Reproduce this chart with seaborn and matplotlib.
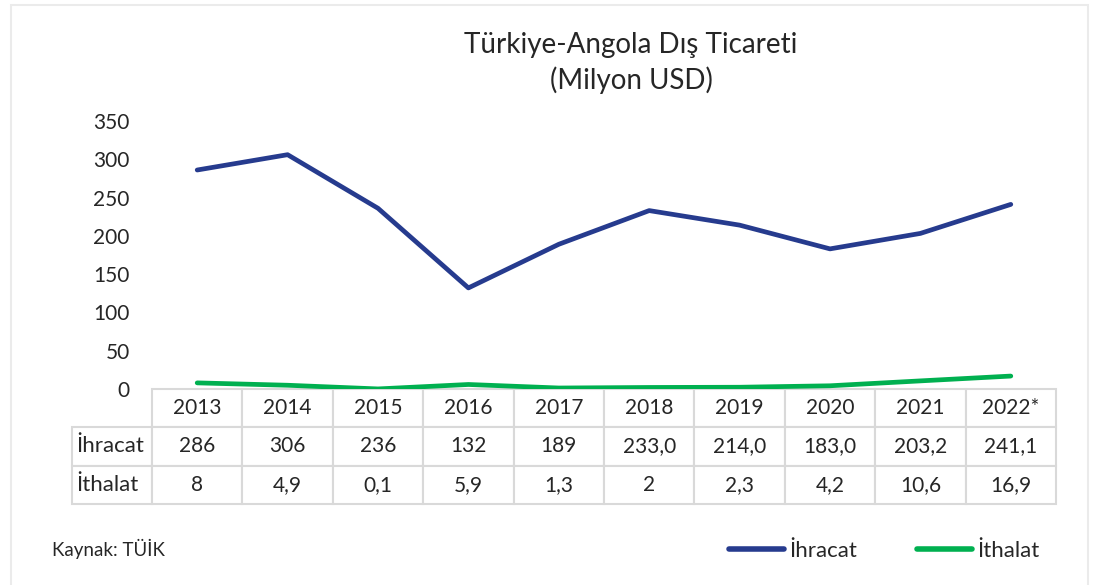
import matplotlib
matplotlib.use("Agg")
import matplotlib.pyplot as plt
import seaborn as sns
import pandas as pd
from matplotlib.table import Table
from matplotlib.patches import Rectangle

# veriler
years = ["2013", "2014", "2015", "2016", "2017", "2018", "2019", "2020", "2021", "2022*"]
ihracat = [286, 306, 236, 132, 189, 233.0, 214.0, 183.0, 203.2, 241.1]
ithalat = [8, 4.9, 0.1, 5.9, 1.3, 2, 2.3, 4.2, 10.6, 16.9]
ihracat_txt = ["286", "306", "236", "132", "189", "233,0", "214,0", "183,0", "203,2", "241,1"]
ithalat_txt = ["8", "4,9", "0,1", "5,9", "1,3", "2", "2,3", "4,2", "10,6", "16,9"]
series_names = ["İhracat", "İthalat"]
colors = ["#263B8E", "#00B050"]
yticks = [0, 50, 100, 150, 200, 250, 300, 350]

sns.set_style("white")
plt.rcParams["font.family"] = ["Lato", "DejaVu Sans"]
txt_color = "#262626"
grid_color = "#D9D9D9"

df = pd.DataFrame({
    "Yil": years * 2,
    "Deger": ihracat + ithalat,
    "Seri": [series_names[0]] * len(years) + [series_names[1]] * len(years),
})

fig = plt.figure(figsize=(10.95, 5.85), dpi=100)
ax = fig.add_axes([152 / 1095, 1 - 389 / 585, 904 / 1095, 268 / 585])

sns.lineplot(data=df, x="Yil", y="Deger", hue="Seri", palette=colors, sort=False,
             linewidth=3.4, ax=ax, legend=False,
             solid_capstyle="round", solid_joinstyle="round")

ax.set_xlim(-0.5, len(years) - 0.5)
ax.set_ylim(0, 350)
ax.set_yticks(yticks)
ax.set_yticklabels([str(v) for v in yticks], fontsize=15, color=txt_color)
ax.tick_params(axis="y", length=0, pad=16)
ax.set_xticks([])
ax.set_xlabel("")
ax.set_ylabel("")
for s in ax.spines.values():
    s.set_visible(False)

# veri tablosu
tab = Table(ax, bbox=[-80 / 904, -115 / 268, 984 / 904, 115 / 268])
label_w = 80
col_w = 90.4
row_h = 38.3
rows = [[""] + years, [series_names[0]] + ihracat_txt, [series_names[1]] + ithalat_txt]
tab.auto_set_font_size(False)
for r, row in enumerate(rows):
    for c, val in enumerate(row):
        w = label_w if c == 0 else col_w
        loc = "left" if c == 0 else "center"
        cell = tab.add_cell(r, c, w, row_h, text=val, loc=loc, facecolor="white",
                            edgecolor=grid_color)
        cell.set_linewidth(1.5)
        cell.get_text().set_fontsize(16 if c == 0 else 15)
        cell.get_text().set_color(txt_color)
        if c == 0:
            cell.PAD = 0.05
        if r == 0 and c == 0:
            cell.visible_edges = ""
ax.add_table(tab)

# başlık
fig.text(631 / 1095, 1 - 45 / 585, "Türkiye-Angola Dış Ticareti", ha="center", va="center",
         fontsize=20, color=txt_color)
fig.text(631 / 1095, 1 - 80 / 585, "(Milyon USD)", ha="center", va="center",
         fontsize=20, color=txt_color)

fig.text(52 / 1095, 1 - 549 / 585, "Kaynak: TÜİK", ha="left", va="center",
         fontsize=13.5, color=txt_color)

# lejant
handles = [plt.Line2D([], [], color=col, lw=4, solid_capstyle="round") for col in colors]
fig.legend(handles, series_names, loc="center", ncol=2, frameon=False,
           bbox_to_anchor=(884 / 1095, 1 - 551 / 585), fontsize=16,
           handlelength=2.5, handletextpad=0.2, columnspacing=2.7,
           labelcolor=txt_color)

# çerçeve
fig.patches.append(Rectangle((11 / 1095, -0.05), 1077 / 1095, 1.05 - 5 / 585,
                             transform=fig.transFigure, fill=False,
                             edgecolor="#EBEBEB", lw=1.5))

fig.savefig("out.png", dpi=100, facecolor="white")
